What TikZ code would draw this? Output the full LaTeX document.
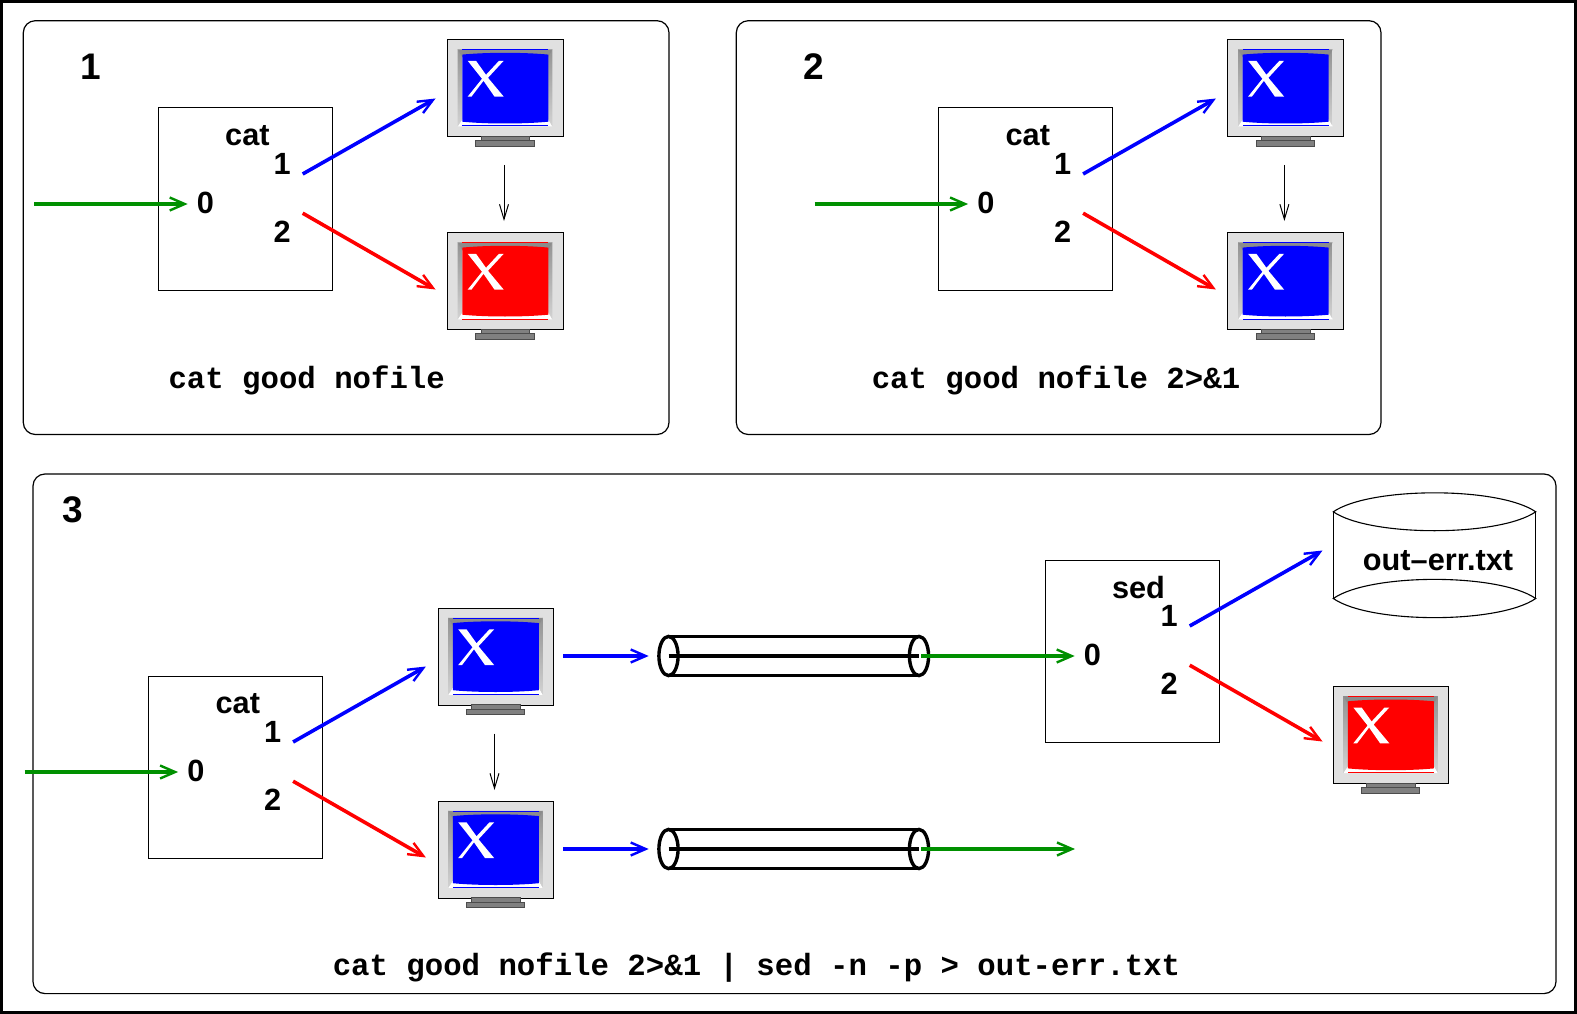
\documentclass[tikz,border=0pt]{standalone}
\usepackage{fontspec}
\setmainfont{Liberation Sans}
\newfontfamily\cmdfont{Liberation Mono}
\usetikzlibrary{arrows.meta}
\definecolor{xgreen}{HTML}{009000}
\definecolor{xred}{HTML}{FF0000}
\definecolor{xblue}{HTML}{0000FF}
\tikzset{
  panel/.style={draw=black,line width=1.2pt,rounded corners=12pt},
  procbox/.style={draw=black,line width=1pt,minimum width=173.5pt,minimum height=182.5pt,inner sep=0pt,anchor=north west},
  lab/.style={font=\fontsize{30.7}{34}\selectfont\bfseries,inner sep=0pt},
  numlab/.style={font=\fontsize{37}{40}\selectfont\bfseries,inner sep=0pt},
  cmd/.style={font=\fontsize{30.7}{34}\cmdfont\bfseries,inner sep=0pt},
  flow/.style={line width=3.6pt,-{Straight Barb[length=15pt,width=13pt,line width=2.4pt,sharp]}},
  thinflow/.style={line width=1pt,black,-{Straight Barb[length=15pt,width=9pt,line width=1pt]}},
  tube/.style={draw=black,line width=3.4pt},
  disk/.style={draw=black,line width=1.1pt},
}
% monitor: name, x, y, screen colour
\newcommand{\monitor}[4]{%
\begin{scope}[shift={(#2,#3)}]
  \node[draw=black,line width=1pt,fill=black!12,minimum width=115.7pt,minimum height=97pt,inner sep=0pt,anchor=north west] (#1) at (0,0) {};
  \fill[white] (10.7,87) -- (105.3,87) -- (101.3,80) -- (15.3,80) -- cycle;
  \shade[top color=gray!85,bottom color=gray!35] (10.7,10) -- (15.3,15) -- (15.3,80) -- (10.7,87) -- cycle;
  \shade[top color=gray!85,bottom color=gray!35] (105.3,10) -- (101.3,15) -- (101.3,80) -- (105.3,87) -- cycle;
  \fill[gray!90] (10.7,10) -- (105.3,10) -- (101.3,18) -- (15.3,18) -- cycle;
  \fill[#4] (15.3,10) rectangle (101.3,10.8);
  \fill[#4] (15.3,86.2) rectangle (101.3,87);
  \fill[#4] (15.3,15.3) .. controls (40,12.9) and (76,12.9) .. (101.3,15.3) -- (101.3,82.4) .. controls (76,84.8) and (40,84.8) .. (15.3,82.4) -- cycle;
  \fill[white] (20.7,21.5) -- (29,21.5) -- (39,35.5) -- (52,21.5) -- (56.7,21.5) -- (41,38.5) -- (56.7,57.3) -- (47.5,57.3) -- (36.5,41.5) -- (24.5,57.3) -- (20.7,57.3) -- (35,39.5) -- cycle;
  \draw[black!70,line width=1pt,fill=gray] (34,97) rectangle (82.7,101.5);
  \draw[black!70,line width=1pt,fill=gray] (28.7,101.5) rectangle (87.3,107);
\end{scope}}
% process: prefix, x, y, title, title x offset
\newcommand{\proc}[5]{%
\begin{scope}[shift={(#2,#3)}]
  \node[procbox] (#1box) at (0,0) {};
  \node[lab] (#1name) at (#5,28) {#4};
  \node[lab] (#1zero) at (47.5,95.3) {0};
  \node[lab] (#1one) at (124.2,56.8) {1};
  \node[lab] (#1two) at (124.2,124) {2};
  \coordinate (#1in) at (-123.8,96.5);
  \coordinate (#1inend) at (29.7,96.5);
  \coordinate (#1o) at (144.7,66.5);
  \coordinate (#1oend) at (277.5,-9);
  \coordinate (#1e) at (144.7,105.7);
  \coordinate (#1eend) at (277.5,182);
\end{scope}}
% pipe: name, centre y
\newcommand{\pipe}[2]{%
\begin{scope}[shift={(0,#2)}]
  \coordinate (#1l) at (668.5,0);
  \coordinate (#1r) at (919,0);
  \draw[tube] (668.5,-19.6) -- (919,-19.6) (668.5,19.6) -- (919,19.6) (#1l) -- (#1r);
  \draw[tube] (#1l) ellipse [x radius=9.6,y radius=19.6];
  \draw[tube] (#1r) ellipse [x radius=9.6,y radius=19.6];
\end{scope}}
\begin{document}
\begin{tikzpicture}[x=1pt,y=-1pt]
\useasboundingbox (0,0) rectangle (1577,1014);
\draw[line width=3pt] (1.5,1.5) rectangle (1575.5,1012.5);
\draw[panel] (23.3,20.7) rectangle (669,434.5);
\draw[panel] (736.3,20.7) rectangle (1381,434.5);
\draw[panel] (33,474) rectangle (1556,993.6);
\node[numlab] (n1) at (90.5,66.4) {1};
\node[numlab] (n2) at (814,66.4) {2};
\node[numlab] (n3) at (72.4,510) {3};
% panel 1
\proc{a}{158}{107.5}{cat}{89.4}
\monitor{a1}{447}{39.3}{xblue}
\monitor{a2}{447}{232.3}{xred}
\coordinate (a12s) at (504,165); \coordinate (a12e) at (504,221);
\draw[flow,xgreen] (ain) -- (ainend);
\draw[flow,xblue] (ao) -- (aoend);
\draw[flow,xred] (ae) -- (aeend);
\draw[thinflow] (a12s) -- (a12e);
\node[cmd] (c1) at (306.7,380) {cat good nofile};
% panel 2
\proc{b}{938.4}{107.5}{cat}{89.4}
\monitor{b1}{1227.4}{39.3}{xblue}
\monitor{b2}{1227.4}{232.3}{xblue}
\coordinate (b12s) at (1284.4,165); \coordinate (b12e) at (1284.4,221);
\draw[flow,xgreen] (bin) -- (binend);
\draw[flow,xblue] (bo) -- (boend);
\draw[flow,xred] (be) -- (beend);
\draw[thinflow] (b12s) -- (b12e);
\node[cmd] (c2) at (1056,380) {cat good nofile 2>\&1};
% panel 3
\proc{c}{148.4}{675.5}{cat}{89.4}
\monitor{c1}{437.5}{607.8}{xblue}
\monitor{c2}{437.5}{800.8}{xblue}
\coordinate (c12s) at (494.5,733.5); \coordinate (c12e) at (494.5,790);
\draw[flow,xgreen] (cin) -- (cinend);
\draw[flow,xblue] (co) -- (coend);
\draw[flow,xred] (ce) -- (ceend);
\draw[thinflow] (c12s) -- (c12e);
\pipe{p1}{656}
\pipe{p2}{849}
\coordinate (m1o) at (563,656); \coordinate (m2o) at (563,849);
\coordinate (p1i) at (648.7,656); \coordinate (p2i) at (648.7,849);
\coordinate (p1g) at (921,656); \coordinate (p2g) at (921,849);
\coordinate (p2e) at (1075,849);
\draw[flow,xblue] (m1o) -- (p1i);
\draw[flow,xblue] (m2o) -- (p2i);
\proc{d}{1045}{559.5}{sed}{93.5}
\draw[flow,xgreen] (p1g) -- (dinend);
\draw[flow,xgreen] (p2g) -- (p2e);
\monitor{d2}{1332.6}{686}{xred}
\draw[flow,xblue] (do) -- (doend);
\draw[flow,xred] (de) -- (deend);
% disk
\draw[disk] (1333.3,511.8) -- (1333.3,598.5) (1535.7,511.8) -- (1535.7,598.5);
\draw[disk] (1333.3,511.8) .. controls (1370,486.5) and (1499,486.5) .. (1535.7,511.8) .. controls (1499,537) and (1370,537) .. (1333.3,511.8) -- cycle;
\draw[disk] (1333.3,598.5) .. controls (1370,573) and (1499,573) .. (1535.7,598.5) .. controls (1499,624) and (1370,624) .. (1333.3,598.5) -- cycle;
\node[lab] (disklab) at (1438,561) {out–err.txt};
\node[cmd] (c3) at (756.5,967.5) {cat good nofile 2>\&1 | sed -n -p > out-err.txt};
\end{tikzpicture}
\end{document}
